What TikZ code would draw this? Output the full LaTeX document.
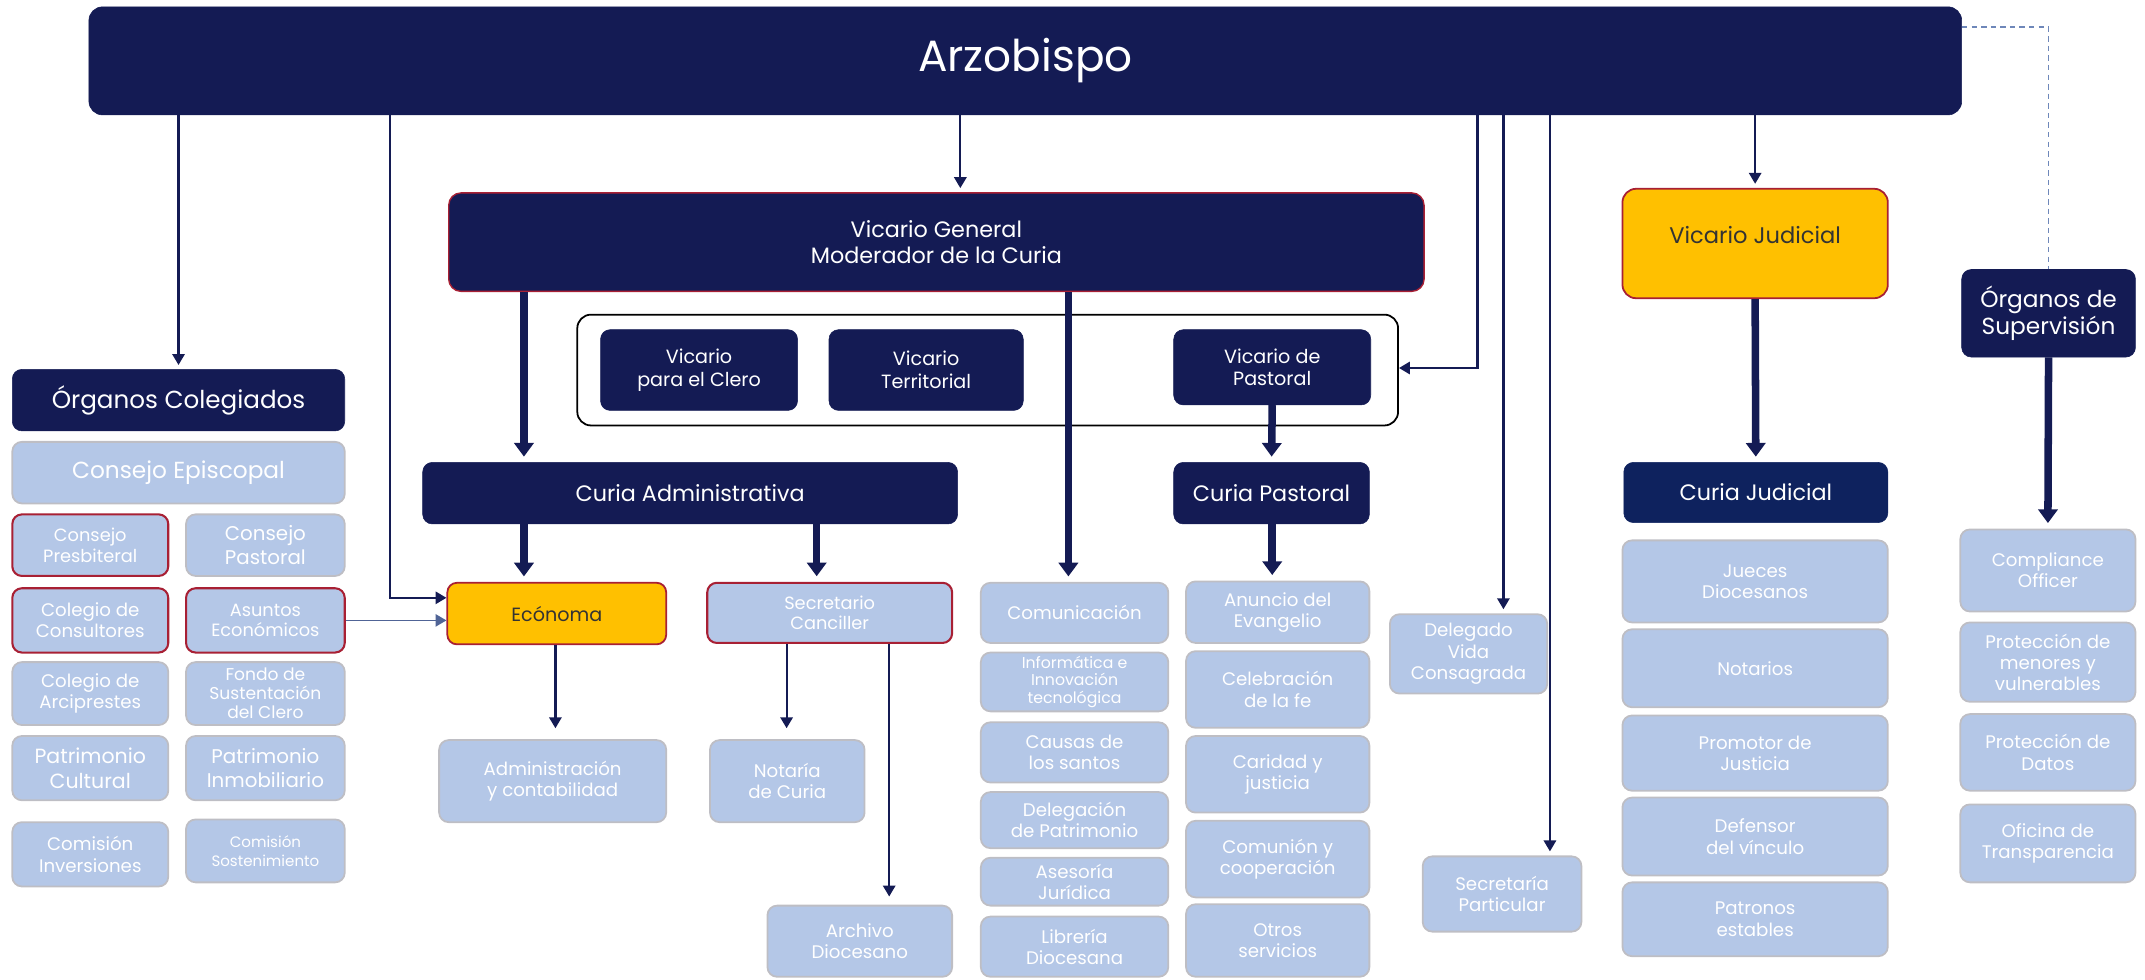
\documentclass[tikz,border=0pt]{standalone}
\usepackage{fontspec}
\setmainfont{Poppins}
\usetikzlibrary{arrows.meta}
\definecolor{navy}{RGB}{20,27,84}
\definecolor{navyj}{RGB}{14,34,94}
\definecolor{lblue}{RGB}{180,199,231}
\definecolor{lborder}{RGB}{190,190,196}
\definecolor{redb}{RGB}{168,32,52}
\definecolor{yell}{RGB}{255,192,0}
\definecolor{dashc}{RGB}{110,135,185}
\definecolor{linkc}{RGB}{80,100,150}
\newcommand\fsz[2]{\fontsize{#1}{#2}\selectfont}
\newcommand\bx[7]{\node[#2, minimum width={(#5-#3)*1pt}, minimum height={(#6-#4)*1pt}] (#1) at ({(#3+#5)/2},{(#4+#6)/2}) {#7};}
\tikzset{
  base/.style={rounded corners=7pt, align=center, inner sep=1pt, font=\fsz{13.3}{15.5}},
  dk/.style={base, fill=navy, draw=navy, text=white, font=\fsz{16.3}{19.5}},
  dkr/.style={dk, draw=redb, line width=1pt},
  dkj/.style={dk, fill=navyj, draw=navyj},
  dks/.style={dk, font=\fsz{14}{16.5}},
  lt/.style={base, fill=lblue, draw=lborder, line width=1.3pt, text=white},
  ltr/.style={lt, draw=redb, line width=1.5pt},
  yel/.style={base, fill=yell, draw=redb, line width=1.3pt, text=black!80},
  tarr/.style={draw=navy, line width=1.6pt, -{Triangle[width=9pt,length=8pt]}, shorten >=3pt},
  karr/.style={draw=navy, line width=5.5pt, -{Triangle[width=14pt,length=10pt]}, shorten >=4pt},
}
\begin{document}
\begin{tikzpicture}[x=1pt,y=-1pt]
\useasboundingbox (0,0) rectangle (1568,716);
% top
\bx{arz}{dk, rounded corners=10pt, font=\fsz{32}{36}}{65}{5}{1434}{84}{Arzobispo}
\bx{vg}{dkr, rounded corners=9pt}{328}{141}{1041}{213}{Vicario General\\Moderador de la Curia}
\bx{cont}{draw=black, line width=1.3pt, rounded corners=10pt, fill=white}{422}{230}{1022}{311}{}
\bx{vclero}{dks}{439}{241}{583}{300}{Vicario\\para el Clero}
\bx{vterr}{dks}{606}{241}{748}{300}{Vicario\\Territorial}
\bx{vpast}{dks}{858}{241}{1002}{296}{Vicario de\\Pastoral}
\bx{cadm}{dk}{309}{338}{700}{383}{Curia Administrativa}
\bx{cpast}{dk}{858}{338}{1001}{383}{Curia Pastoral}
% administrativa
\bx{econ}{yel, font=\fsz{14}{16}}{327}{426}{487}{471}{Ecónoma}
\bx{secc}{ltr, font=\fsz{13}{15}}{517}{426}{696}{470}{Secretario\\Canciller}
\bx{admin}{lt}{321}{541}{487}{601}{Administración\\y contabilidad}
\bx{notc}{lt}{519}{541}{632}{601}{Notaría\\de Curia}
\bx{arch}{lt}{561}{662}{696}{714}{Archivo\\Diocesano}
% middle column
\bx{com}{lt}{717}{426}{854}{470}{Comunicación}
\bx{inf}{lt, font=\fsz{11.5}{13}}{717}{477}{854}{520}{Informática e\\Innovación\\tecnológica}
\bx{caus}{lt}{717}{528}{854}{572}{Causas de\\los santos}
\bx{delp}{lt}{717}{579}{854}{620}{Delegación\\de Patrimonio}
\bx{ases}{lt}{717}{627}{854}{662}{Asesoría\\Jurídica}
\bx{libr}{lt}{717}{670}{854}{714}{Librería\\Diocesana}
% pastoral column
\bx{anun}{lt}{867}{425}{1001}{470}{Anuncio del\\Evangelio}
\bx{cele}{lt}{867}{476}{1001}{532}{Celebración\\de la fe}
\bx{cari}{lt}{867}{538}{1001}{594}{Caridad y\\justicia}
\bx{comu}{lt}{867}{600}{1001}{656}{Comunión y\\cooperación}
\bx{otro}{lt}{867}{661}{1001}{714}{Otros\\servicios}
% delegados
\bx{dvc}{lt}{1016}{449}{1131}{507}{Delegado\\Vida\\Consagrada}
\bx{secp}{lt}{1040}{626}{1156}{681}{Secretaría\\Particular}
% judicial
\bx{vj}{yel, rounded corners=10pt}{1186}{138}{1380}{218}{}
\node[font=\fsz{16.5}{19}, text=black!80] (vjt) at ([yshift=6pt]vj.center) {Vicario Judicial};
\bx{cj}{dkj}{1187}{338}{1380}{382}{Curia Judicial}
\bx{juec}{lt}{1186}{395}{1380}{455}{Jueces\\Diocesanos}
\bx{nots}{lt}{1186}{460}{1380}{517}{Notarios}
\bx{prom}{lt}{1186}{523}{1380}{578}{Promotor de\\Justicia}
\bx{defe}{lt}{1186}{583}{1380}{640}{Defensor\\del vínculo}
\bx{patr}{lt}{1186}{645}{1380}{699}{Patronos\\estables}
% supervision
\bx{osup}{dk, font=\fsz{17}{20}}{1434}{197}{1561}{261}{Órganos de\\Supervisión}
\bx{comp}{lt}{1433}{387}{1561}{447}{Compliance\\Officer}
\bx{pmen}{lt}{1433}{455}{1561}{513}{Protección de\\menores y\\vulnerables}
\bx{pdat}{lt}{1433}{522}{1561}{578}{Protección de\\Datos}
\bx{otra}{lt}{1433}{588}{1561}{645}{Oficina de\\Transparencia}
% colegiados
\bx{ocol}{dk, font=\fsz{18}{20}}{9}{270}{252}{315}{Órganos Colegiados}
\bx{cepi}{lt, font=\fsz{17}{19}}{9}{323}{252}{368}{Consejo Episcopal}
\bx{cpre}{ltr, font=\fsz{13}{15}}{9}{376}{123}{421}{Consejo\\Presbiteral}
\bx{cpas}{lt, font=\fsz{14.5}{17}}{136}{376}{252}{421}{Consejo\\Pastoral}
\bx{ccon}{ltr}{9}{430}{123}{477}{Colegio de\\Consultores}
\bx{asun}{ltr, font=\fsz{13}{15}}{136}{430}{252}{477}{Asuntos\\Económicos}
\bx{carc}{lt}{9}{484}{123}{530}{Colegio de\\Arciprestes}
\bx{fond}{lt, font=\fsz{12.5}{14}}{136}{484}{252}{530}{Fondo de\\Sustentación\\del Clero}
\bx{pcul}{lt, font=\fsz{15}{18}}{9}{538}{123}{585}{Patrimonio\\Cultural}
\bx{pinm}{lt, font=\fsz{14.5}{18}}{136}{538}{252}{585}{Patrimonio\\Inmobiliario}
\bx{cinv}{lt}{9}{601}{123}{648}{Comisión\\Inversiones}
\bx{csos}{lt, font=\fsz{11}{14}}{136}{599}{252}{645}{Comisión\\Sostenimiento}
% x positions of connectors
\coordinate (c285) at (285,437);
\coordinate (c702) at (702,0);
\coordinate (c1080) at (1080,269);
\coordinate (c1099) at (1099,0);
\coordinate (c1133) at (1133,0);
\coordinate (c383) at (383,0);
\coordinate (c781) at (781,0);
\coordinate (c406) at (406,0);
\coordinate (c597) at (597,0);
\coordinate (c575) at (575,0);
\coordinate (c650) at (650,0);
\coordinate (c930) at (930,0);
% thin connectors from Arzobispo
\draw[tarr] (arz.south -| ocol.north) -- (ocol.north);
\draw[tarr, shorten >=0pt] (arz.south -| c285) |- (econ.west |- c285);
\draw[tarr] (arz.south -| c702) -- (vg.north -| c702);
\draw[tarr, shorten >=0pt] (arz.south -| c1080) |- (cont.east |- c1080);
\draw[tarr] (arz.south -| c1099) -- (dvc.north -| c1099);
\draw[tarr] (arz.south -| c1133) -- (secp.north -| c1133);
\draw[tarr] (arz.south -| vj.north) -- (vj.north);
\draw[dashc, line width=1.2pt, dash pattern=on 4pt off 3pt] ([yshift=-15pt]arz.north east) -| (osup.north);
\draw[linkc, line width=1.3pt, -{Triangle[width=9pt,length=8pt]}] (asun.east) -- (econ.west |- asun.east);
% thick connectors
\draw[karr] (vg.south -| c383) -- (cadm.north -| c383);
\draw[karr] (vg.south -| c781) -- (com.north -| c781);
\draw[karr] (vpast.south) -- (cpast.north);
\draw[karr] (cadm.south -| c383) -- (econ.north -| c383);
\draw[karr] (cadm.south -| c597) -- (secc.north -| c597);
\draw[karr] (cpast.south -| c930) -- (anun.north -| c930);
\draw[karr] (vj.south) -- (cj.north);
\draw[karr] (osup.south) -- (comp.north);
% thin connectors below
\draw[tarr, shorten >=8pt] (econ.south -| c406) -- (admin.north -| c406);
\draw[tarr, shorten >=8pt] (secc.south -| c575) -- (notc.north -| c575);
\draw[tarr, shorten >=6pt] (secc.south -| c650) -- (arch.north -| c650);
\end{tikzpicture}
\end{document}
